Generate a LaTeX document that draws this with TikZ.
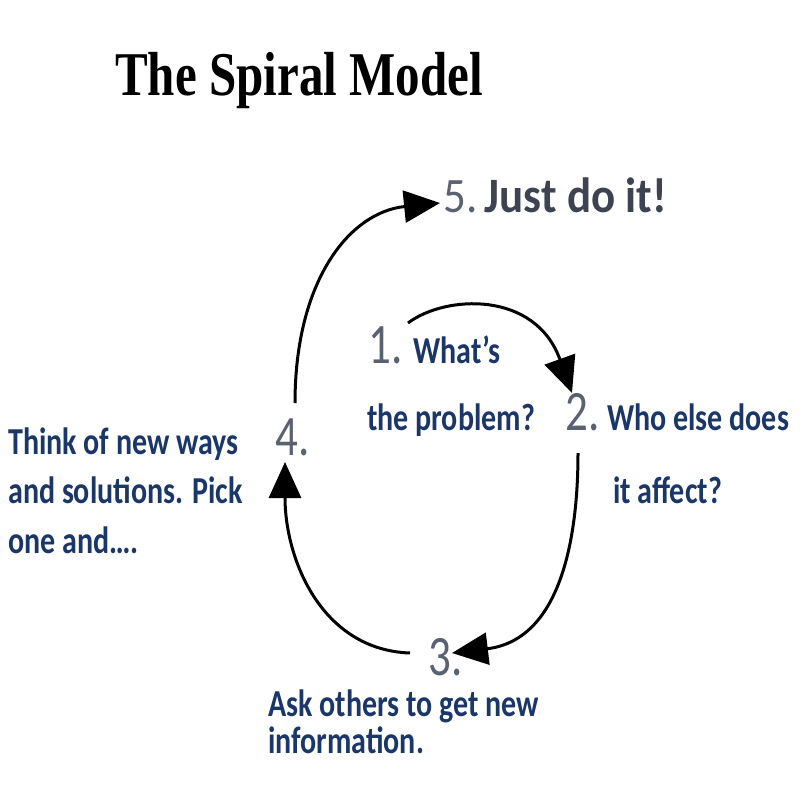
\documentclass[tikz,border=0pt]{standalone}
\usepackage{fontspec}
\setmainfont{Carlito}
\newfontfamily\titlefont{Liberation Serif}
\usetikzlibrary{arrows.meta}
\definecolor{navy}{HTML}{1B3668}
\definecolor{numgray}{HTML}{5A6272}
\definecolor{dogray}{HTML}{3E4352}
\tikzset{
  stretched/.style={transform shape, yscale=1.27, inner sep=0pt, anchor=base west},
  bluetext/.style={stretched, text=navy, font=\fontsize{30}{38.6}\selectfont\bfseries},
  numtext/.style={stretched, text=numgray, font=\fontsize{45}{50}\selectfont},
  flow/.style={line width=3pt, -{Triangle[length=36pt, width=32pt]}}
}
\begin{document}
\begin{tikzpicture}[x=1pt, y=-1pt]
\useasboundingbox[fill=white] (0,0) rectangle (800,800);
% title
\node[stretched, font=\titlefont\bfseries\fontsize{49}{55}\selectfont] (title) at (115,95) {The Spiral Model};
% step 5
\node[transform shape, yscale=1.1, inner sep=0pt, anchor=base west, font=\fontsize{45}{50}\selectfont] (s5) at (443,212) {\textcolor{numgray}{5.}\,\textcolor{dogray}{\bfseries Just do it!}};
% step 1
\node[numtext] (n1) at (368,363) {1.};
\node[bluetext] (t1) at (413,363) {What’s};
\node[bluetext] (t1b) at (367,430) {the problem?};
% step 2
\node[numtext] (n2) at (565,430) {2.};
\node[bluetext] (t2) at (607,430) {Who else does};
\node[bluetext] (t2b) at (613,503) {it affect?};
% step 3
\node[numtext] (n3) at (428,675) {3.};
\node[bluetext, font=\fontsize{30}{28.4}\selectfont\bfseries, align=left] (t3) at (268,753) {Ask others to get new\\information.};
% step 4
\node[numtext] (n4) at (275,455) {4.};
\node[bluetext, align=left] (t4) at (8,553) {Think of new ways\\and solutions. Pick\\one and….};
% arrow ends
\coordinate (a1s) at (408,323);
\coordinate (a1e) at (572,393);
\coordinate (a2s) at (578,453);
\coordinate (a2e) at (452,653);
\coordinate (a3s) at (410,653);
\coordinate (a3e) at (285,462);
\coordinate (a4s) at (295,403);
\coordinate (a4e) at (440,203);
\draw[flow] (a1s) .. controls (445,295) and (535,290) .. (a1e);
\draw[flow] (a2s) .. controls (578,540) and (560,640) .. (a2e);
\draw[flow] (a3s) .. controls (322,650) and (285,560) .. (a3e);
\draw[flow] (a4s) .. controls (295,280) and (350,212) .. (a4e);
\end{tikzpicture}
\end{document}
